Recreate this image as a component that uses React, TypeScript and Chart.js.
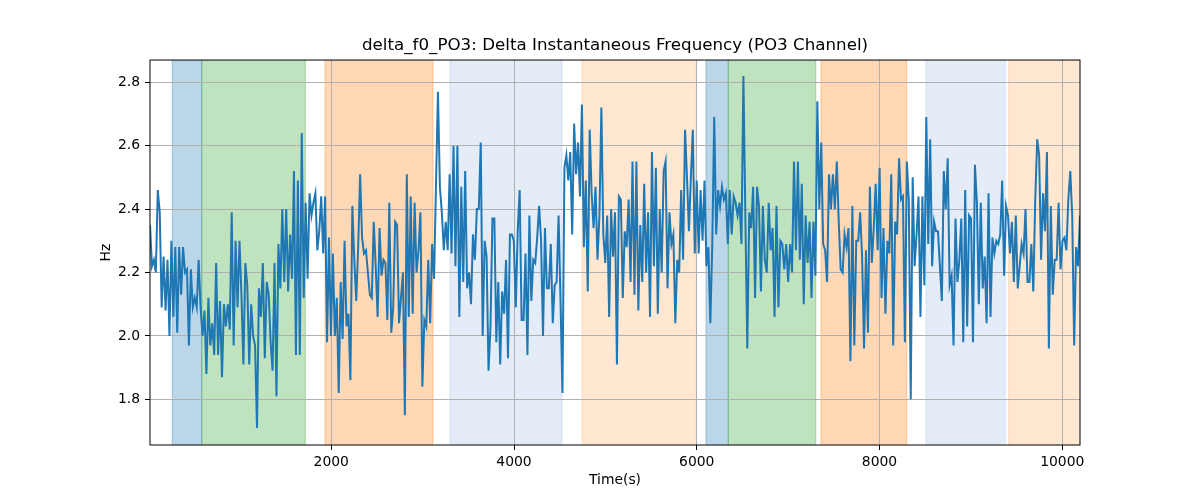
import { useEffect, useRef } from "react";
import { Chart, registerables } from "chart.js";

Chart.register(...registerables);

const TITLE = "delta_f0_PO3: Delta Instantaneous Frequency (PO3 Channel)";
const X_LABEL = "Time(s)";
const Y_LABEL = "Hz";

const X_MIN = 16;
const X_MAX = 10194;
const Y_MIN = 1.656;
const Y_MAX = 2.87;

const X_TICKS = [2000, 4000, 6000, 8000, 10000];
const Y_TICKS = [1.8, 2.0, 2.2, 2.4, 2.6, 2.8];

// shaded phases: start, end, kind
const SPAN_START = [260, 582, 1931, 3299, 4744, 6101, 6345, 7359, 8508, 9413];
const SPAN_END = [582, 1716, 3113, 4525, 5995, 6345, 7301, 8297, 9376, 10194];
const SPAN_KIND = ["blue", "green", "orange", "lightblue", "lightorange", "blue", "green", "orange", "lightblue", "lightorange"];

// delta f0 values, evenly spaced in time from X_MIN to X_MAX
const VALUES = [
  2.35, 2.22, 2.24, 2.20, 2.46, 2.39, 2.09, 2.25, 2.08, 2.24, 2.00, 2.30, 2.06, 2.28, 2.01, 2.28, 2.13, 2.28, 2.20, 2.21,
  1.97, 2.21, 2.09, 2.12, 2.09, 2.24, 2.09, 2.00, 2.08, 1.88, 2.12, 1.97, 2.04, 1.94, 2.23, 1.94, 2.11, 1.87, 2.10, 2.03,
  2.10, 2.02, 2.39, 1.97, 2.30, 2.09, 2.30, 2.13, 1.91, 2.23, 2.16, 1.91, 2.10, 2.00, 1.97, 1.71, 2.15, 2.06, 2.23, 1.93,
  2.17, 2.13, 1.98, 1.89, 2.23, 1.81, 2.29, 2.15, 2.40, 2.17, 2.40, 2.14, 2.32, 2.18, 2.52, 1.94, 2.49, 1.94, 2.64, 2.12,
  2.42, 2.18, 2.45, 2.38, 2.42, 2.45, 2.27, 2.33, 2.44, 2.26, 2.44, 1.98, 2.31, 2.00, 2.26, 2.00, 2.12, 1.82, 2.17, 1.99,
  2.30, 2.03, 2.07, 1.86, 2.41, 2.24, 2.11, 2.28, 2.51, 2.31, 2.26, 2.27, 2.20, 2.13, 2.12, 2.36, 2.22, 2.06, 2.34, 2.19,
  2.24, 2.23, 2.05, 2.42, 2.01, 2.09, 2.36, 2.35, 2.04, 2.12, 2.20, 1.75, 2.51, 2.06, 2.44, 2.07, 2.42, 2.20, 2.27, 2.39,
  1.84, 2.05, 2.03, 2.24, 2.04, 2.29, 2.18, 2.48, 2.77, 2.47, 2.39, 2.27, 2.36, 2.27, 2.51, 2.26, 2.60, 2.22, 2.60, 2.06,
  2.47, 2.17,
  2.52, 2.15, 2.20, 2.10, 2.32, 2.24, 2.40, 2.40, 2.61, 2.00, 2.30, 2.25, 1.89, 2.03, 2.37, 2.37, 1.98, 2.17, 1.91, 2.14,
  2.07, 2.24, 1.93, 2.32, 2.32, 2.30, 2.09, 2.33, 2.46, 2.05, 2.05, 2.26, 1.94, 2.38, 2.11, 2.24, 2.23, 2.31, 2.41, 2.30,
  2.00, 2.34, 2.15, 2.15, 2.29, 2.04, 2.16, 2.17, 2.38, 2.11, 1.82, 2.53, 2.57, 2.49, 2.58, 2.32, 2.67, 2.51, 2.61, 2.44,
  2.73, 2.28, 2.49, 2.14, 2.65, 2.45, 2.34, 2.47, 2.24, 2.38, 2.72, 2.32, 2.23, 2.38, 2.06, 2.40, 2.25, 2.39, 1.91, 2.44,
  2.43, 2.12, 2.33, 2.28, 2.43, 2.17, 2.55, 2.13, 2.55, 2.08, 2.35, 2.17, 2.48, 2.20, 2.39, 2.06, 2.58, 2.22, 2.53, 2.07,
  2.40, 2.20, 2.52, 2.55, 2.15, 2.39, 2.29, 2.32, 2.04, 2.24, 2.20, 2.46, 2.24, 2.65, 2.50, 2.33, 2.50, 2.65, 2.26,
  2.49, 2.26, 2.46, 2.30, 2.49, 2.22, 2.28, 2.04, 2.29, 2.69, 2.32, 2.46, 2.41, 2.47, 2.43, 2.45, 2.29, 2.46, 2.32, 2.44,
  2.42, 2.38, 2.42, 2.29, 2.82, 2.38, 1.96, 2.39, 2.34, 2.47, 2.12, 2.47, 2.41, 2.14, 2.41, 2.24, 2.20, 2.42, 2.27, 2.34,
  2.06,
  2.41, 2.09, 2.30, 2.29, 2.21, 2.29, 2.17, 2.29, 2.20, 2.55, 2.27, 2.55, 2.24, 2.48, 2.10, 2.38, 2.23, 2.36, 2.12, 2.36,
  2.19, 2.74, 2.40, 2.61, 2.29, 2.27, 2.17, 2.51, 2.40, 2.51, 2.40, 2.55, 2.36, 2.21, 2.20, 2.32, 2.28, 2.34, 1.92, 2.41, 1.97,
  2.30, 2.30, 2.39, 2.25, 1.96, 2.27, 2.01, 2.47, 2.23, 2.34, 2.48, 2.27, 2.53, 2.12, 2.34, 2.07, 2.30, 2.26, 2.51, 1.97,
  2.36, 2.32, 2.56, 2.43, 2.44, 1.98, 2.55, 2.43, 1.80, 2.50, 2.22, 2.32, 2.44, 2.06, 2.44, 2.16, 2.69, 2.29, 2.62, 2.22,
  2.36, 2.33, 2.33, 2.22, 2.11, 2.52, 2.40, 2.56, 2.16, 2.19, 1.97, 2.37, 2.17, 2.24, 2.37, 1.98, 2.46, 2.03, 2.38, 2.37,
  1.98, 2.54, 2.42, 2.10, 2.42, 2.15, 2.25, 2.04, 2.45, 2.06, 2.31, 2.26, 2.30, 2.29, 2.32, 2.49, 2.19, 2.41,
  2.38, 2.26, 2.36, 2.17, 2.38, 2.15, 2.22, 2.29, 2.26, 2.40, 2.17, 2.17, 2.29, 2.14, 2.43, 2.62, 2.57, 2.24, 2.45, 2.33,
  2.58, 1.96, 2.41, 2.13, 2.24, 2.24, 2.42, 2.21, 2.30, 2.31, 2.27, 2.43, 2.52, 2.38, 1.97, 2.28, 2.22, 2.38,
];

const SPAN_COLORS: Record<string, string> = {
  blue: "rgba(31,119,180,0.3)",
  green: "rgba(44,160,44,0.3)",
  orange: "rgba(255,127,14,0.3)",
  lightblue: "rgba(120,160,215,0.2)",
  lightorange: "rgba(255,170,90,0.28)",
};

const FONT = "'DejaVu Sans', sans-serif";

const spansPlugin = {
  id: "spans",
  beforeDraw(chart: any) {
    const { ctx, chartArea, scales } = chart;
    const { left, right, top, bottom } = chartArea;
    ctx.save();
    SPAN_START.forEach((s, i) => {
      const x0 = Math.max(scales.x.getPixelForValue(s), left);
      const x1 = Math.min(scales.x.getPixelForValue(SPAN_END[i]), right);
      const c = SPAN_COLORS[SPAN_KIND[i]];
      ctx.fillStyle = c;
      ctx.fillRect(x0, top, x1 - x0, bottom - top);
      ctx.strokeStyle = c;
      ctx.lineWidth = 1.2;
      ctx.beginPath();
      ctx.moveTo(x0, top); ctx.lineTo(x0, bottom);
      if (x1 < right) { ctx.moveTo(x1, top); ctx.lineTo(x1, bottom); }
      ctx.stroke();
    });
    ctx.restore();
  },
  afterDraw(chart: any) {
    const { ctx, chartArea } = chart;
    ctx.save();
    ctx.strokeStyle = "#000";
    ctx.lineWidth = 1;
    ctx.strokeRect(chartArea.left, chartArea.top, chartArea.right - chartArea.left, chartArea.bottom - chartArea.top);
    ctx.restore();
  },
};

export default function App() {
  const canvasRef = useRef<HTMLCanvasElement>(null);
  const chartRef = useRef<any>(null);

  useEffect(() => {
    if (!canvasRef.current) return;
    chartRef.current?.destroy();
    const n = VALUES.length;
    const points = VALUES.map((v, i) => ({ x: X_MIN + (i * (X_MAX - X_MIN)) / (n - 1), y: v }));

    chartRef.current = new Chart(canvasRef.current, {
      type: "line",
      data: {
        datasets: [{
          data: points,
          borderColor: "#1f77b4",
          borderWidth: 2,
          pointRadius: 0,
          tension: 0,
          fill: false,
        }],
      },
      options: {
        responsive: true,
        maintainAspectRatio: false,
        animation: false,
        layout: { padding: { left: 0, right: 120, top: 0, bottom: 0 } },
        plugins: {
          legend: { display: false },
          tooltip: { enabled: false },
          title: {
            display: true,
            text: TITLE,
            fullSize: false,
            color: "#000",
            font: { family: FONT, size: 16.7, weight: "normal" },
            padding: { top: 36, bottom: 4 },
          },
        },
        scales: {
          x: {
            type: "linear",
            min: X_MIN,
            max: X_MAX,
            afterBuildTicks: (s: any) => { s.ticks = X_TICKS.map((v) => ({ value: v })); },
            afterFit: (s: any) => { s.height = 55; },
            ticks: { color: "#000", font: { family: FONT, size: 13.9 }, padding: 4, maxRotation: 0, autoSkip: false, callback: (v: any) => String(v) },
            grid: { color: "#b0b0b0", lineWidth: 1, tickLength: 5, tickColor: "#000", tickWidth: 1 },
            border: { display: false },
            title: { display: true, text: X_LABEL, color: "#000", font: { family: FONT, size: 13.9 }, padding: { top: 0, bottom: 11 } },
          },
          y: {
            type: "linear",
            min: Y_MIN,
            max: Y_MAX,
            afterBuildTicks: (s: any) => { s.ticks = Y_TICKS.map((v) => ({ value: v })); },
            afterFit: (s: any) => { s.width = 150; },
            ticks: { color: "#000", font: { family: FONT, size: 13.9 }, padding: 5, autoSkip: false, callback: (v: any) => Number(v).toFixed(1) },
            grid: { color: "#b0b0b0", lineWidth: 1, tickLength: 5, tickColor: "#000", tickWidth: 1 },
            border: { display: false },
            title: { display: true, text: Y_LABEL, color: "#000", font: { family: FONT, size: 13.9 }, padding: { top: 98, bottom: 0 } },
          },
        },
      },
      plugins: [spansPlugin],
    });
    return () => { chartRef.current?.destroy(); chartRef.current = null; };
  }, []);

  return (
    <div style={{ position: "fixed", left: 0, top: 0, width: 1200, height: 500, background: "#fff" }}>
      <canvas ref={canvasRef} />
    </div>
  );
}
